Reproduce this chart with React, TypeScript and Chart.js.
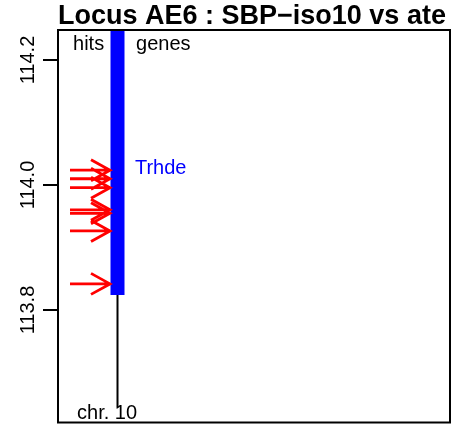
import { useEffect, useRef } from 'react';
import { Chart, registerables } from 'chart.js';

Chart.register(...registerables);

// ---- data ----
const titleText = 'Locus AE6 : SBP\u2212iso10 vs ate';
const yTickValues = [113.8, 114.0, 114.2];
const hitPositions = [114.0237, 114.01, 113.9957, 113.9603, 113.9547, 113.9265, 113.8418];
const geneNames = ['Trhde'];
const geneStarts = [113.824];
const geneEnds = [114.3];
const geneLabelPositions = [114.0257];
const chromosomeNames = ['chr. 10'];
const chromosomeStarts = [113.644];
const chromosomeEnds = [114.3];
const columnHeaders = ['hits', 'genes'];

// ---- layout ----
const Y_MIN = 113.62;
const Y_MAX = 114.248;
const X_MIN = 0;
const X_MAX = 10;
const ARROW_START = 0.306;
const ARROW_TIP = 1.327;
const HEAD_DX = 0.485;
const HEAD_DY = 0.0168;
const TRACK_X = 1.518;
const HEADER_Y = 114.2255;
const HEADER_X = [0.383, 1.99];
const GENE_LABEL_X = 1.964;
const CHR_LABEL_X = 0.485;
const CHR_LABEL_Y = 113.6346;
const FONT = "'Liberation Sans', Arial, Helvetica, sans-serif";

type P = { x: number; y: number | null };

function arrowPoints(): P[] {
  const pts: P[] = [];
  hitPositions.forEach((y) => {
    pts.push({ x: ARROW_START, y }, { x: ARROW_TIP, y }, { x: ARROW_TIP, y: null });
    pts.push(
      { x: ARROW_TIP - HEAD_DX, y: y + HEAD_DY },
      { x: ARROW_TIP, y },
      { x: ARROW_TIP - HEAD_DX, y: y - HEAD_DY },
      { x: ARROW_TIP, y: null }
    );
  });
  return pts;
}

function genePoints(): P[] {
  const pts: P[] = [];
  geneStarts.forEach((s, i) => {
    pts.push({ x: TRACK_X, y: s }, { x: TRACK_X, y: geneEnds[i] }, { x: TRACK_X, y: null });
  });
  return pts;
}

function chromosomePoints(): P[] {
  const pts: P[] = [];
  chromosomeStarts.forEach((s, i) => {
    pts.push({ x: TRACK_X, y: s }, { x: TRACK_X, y: chromosomeEnds[i] }, { x: TRACK_X, y: null });
  });
  return pts;
}

const frameAndTextPlugin = {
  id: 'frameAndText',
  afterDatasetsDraw(chart: any) {
    const { ctx, scales } = chart;
    const xs = scales.x;
    const ys = scales.y;
    ctx.save();
    ctx.font = `20px ${FONT}`;
    ctx.textBaseline = 'middle';
    ctx.textAlign = 'left';
    ctx.fillStyle = '#000';
    columnHeaders.forEach((t, i) => {
      ctx.fillText(t, xs.getPixelForValue(HEADER_X[i]), ys.getPixelForValue(HEADER_Y));
    });
    chromosomeNames.forEach((t) => {
      ctx.fillText(t, xs.getPixelForValue(CHR_LABEL_X), ys.getPixelForValue(CHR_LABEL_Y));
    });
    ctx.fillStyle = '#0000FF';
    geneNames.forEach((t, i) => {
      ctx.fillText(t, xs.getPixelForValue(GENE_LABEL_X), ys.getPixelForValue(geneLabelPositions[i]));
    });
    ctx.restore();
  },
  afterDraw(chart: any) {
    const { ctx, chartArea } = chart;
    ctx.save();
    ctx.strokeStyle = '#000';
    ctx.lineWidth = 2;
    ctx.strokeRect(chartArea.left, chartArea.top, chartArea.right - chartArea.left, chartArea.bottom - chartArea.top);
    ctx.restore();
  },
};

export default function App() {
  const ref = useRef<HTMLCanvasElement | null>(null);
  useEffect(() => {
    document.body.style.margin = '0';
    if (!ref.current) return;
    const chart = new Chart(ref.current, {
      type: 'line',
      data: {
        datasets: [
          {
            data: arrowPoints() as any,
            borderColor: '#FF0000',
            borderWidth: 2.8,
            pointRadius: 0,
            spanGaps: false,
            tension: 0,
          },
          {
            data: genePoints() as any,
            borderColor: '#0000FF',
            borderWidth: 14,
            borderCapStyle: 'butt',
            pointRadius: 0,
            spanGaps: false,
          },
          {
            data: chromosomePoints() as any,
            borderColor: '#000',
            borderWidth: 2,
            borderCapStyle: 'butt',
            pointRadius: 0,
            spanGaps: false,
          },
        ],
      },
      options: {
        animation: false,
        responsive: false,
        events: [],
        layout: { padding: { left: 0, right: 1, top: 0, bottom: 1 } },
        plugins: {
          legend: { display: false },
          tooltip: { enabled: false },
          title: {
            display: true,
            text: titleText,
            align: 'start',
            fullSize: false,
            color: '#000',
            font: { family: FONT, size: 27, weight: 'bold', lineHeight: 1 },
            padding: { top: 3, bottom: 0 },
          },
        },
        scales: {
          x: { type: 'linear', min: X_MIN, max: X_MAX, display: false },
          y: {
            type: 'linear',
            min: Y_MIN,
            max: Y_MAX,
            afterBuildTicks: (scale: any) => {
              scale.ticks = yTickValues.map((v) => ({ value: v }));
            },
            afterFit: (scale: any) => {
              scale.width = 58;
            },
            border: { display: false },
            grid: {
              drawOnChartArea: false,
              drawTicks: true,
              tickLength: 15,
              tickColor: '#000',
              tickWidth: 2,
              lineWidth: 2,
            },
            ticks: {
              minRotation: 90,
              maxRotation: 90,
              crossAlign: 'center',
              padding: -9.5,
              color: '#000',
              font: { family: FONT, size: 20 },
              callback: (v: any) => Number(v).toFixed(1),
            },
          },
        },
      } as any,
      plugins: [frameAndTextPlugin],
    });
    return () => chart.destroy();
  }, []);
  return (
    <div style={{ width: 451, height: 425 }}>
      <canvas ref={ref} width={451} height={425} />
    </div>
  );
}
